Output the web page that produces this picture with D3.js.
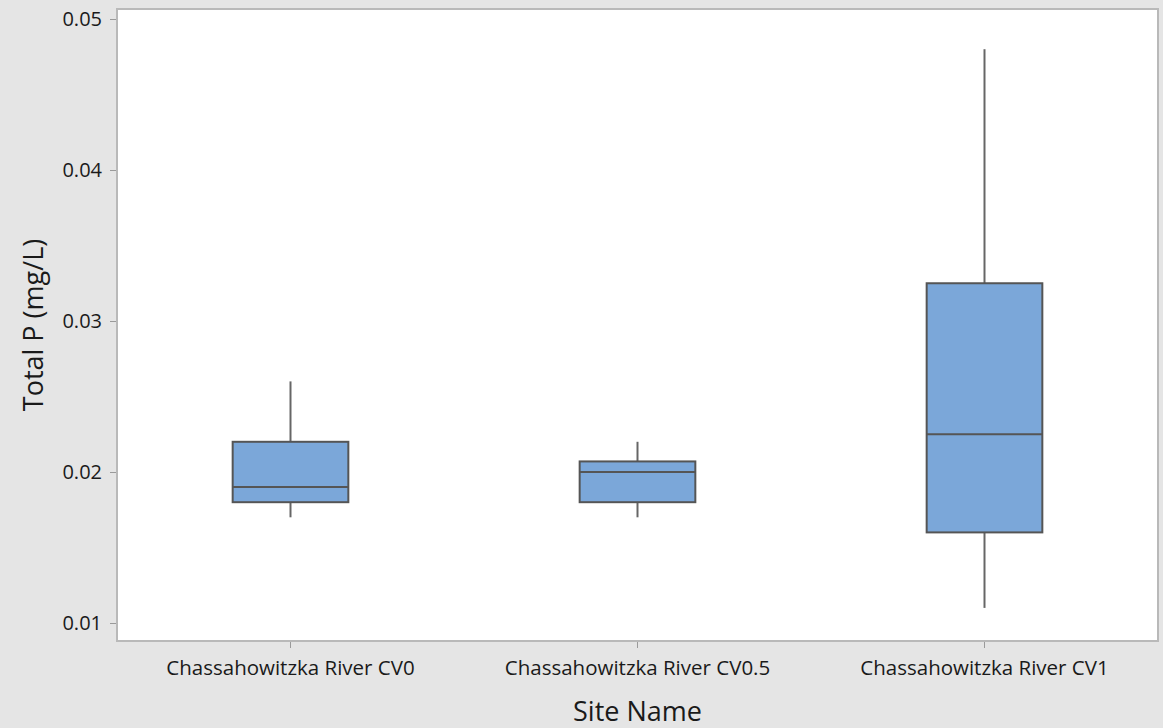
<!DOCTYPE html>
<html>
<head>
<meta charset="utf-8">
<script src="https://cdn.jsdelivr.net/npm/d3@7"></script>
<style>
  html, body { margin: 0; padding: 0; background: #e5e5e5; }
  svg { display: block; }
  text { font-family: "Open Sans", "Noto Sans", sans-serif; fill: #1a1a1a; }
</style>
</head>
<body>
<svg id="chart" width="1163" height="728"></svg>
<script>
// Total phosphorus summary per sampling site
const sites = ["Chassahowitzka River CV0", "Chassahowitzka River CV0.5", "Chassahowitzka River CV1"];
const whiskerLow  = [0.017, 0.017, 0.011];
const q1          = [0.018, 0.018, 0.016];
const median      = [0.019, 0.020, 0.0225];
const q3          = [0.022, 0.0207, 0.0325];
const whiskerHigh = [0.026, 0.022, 0.048];
const yTicks = [0.01, 0.02, 0.03, 0.04, 0.05];

const boxes = sites.map((s, i) => ({
  site: s, lo: whiskerLow[i], q1: q1[i], med: median[i], q3: q3[i], hi: whiskerHigh[i]
}));

const svg = d3.select("#chart");
const plot = { left: 117, top: 9, right: 1158, bottom: 641 };

const x = d3.scaleBand().domain(sites).range([plot.left, plot.right]).paddingInner(0).paddingOuter(0);
// 0.05 sits at y=19, 0.01 at y=623
const y = d3.scaleLinear().domain([0.01, 0.05]).range([623, 19]);

// plot background and frame
svg.append("rect")
  .attr("x", plot.left).attr("y", plot.top)
  .attr("width", plot.right - plot.left).attr("height", plot.bottom - plot.top)
  .attr("fill", "#ffffff").attr("stroke", "#b9b9b9").attr("stroke-width", 2);

// y axis
const yAxis = svg.append("g")
  .attr("transform", `translate(${plot.left - 1},0)`)
  .call(d3.axisLeft(y).tickValues(yTicks).tickFormat(d3.format(".2f")).tickSize(6).tickPadding(8));
yAxis.select(".domain").remove();
yAxis.selectAll(".tick line").attr("stroke", "#9a9a9a");
yAxis.selectAll(".tick text").style("font-size", "20px").attr("fill", "#1a1a1a");

// x axis
const xAxis = svg.append("g")
  .attr("transform", `translate(0,${plot.bottom + 1})`)
  .call(d3.axisBottom(x).tickSize(6).tickPadding(12));
xAxis.select(".domain").remove();
xAxis.selectAll(".tick line").attr("stroke", "#9a9a9a");
xAxis.selectAll(".tick text").style("font-size", "20.5px").attr("fill", "#1a1a1a");

// axis titles
svg.append("text")
  .attr("x", (plot.left + plot.right) / 2).attr("y", 721)
  .attr("text-anchor", "middle").style("font-size", "27px")
  .text("Site Name");
svg.append("text")
  .attr("transform", `translate(43,${(plot.top + plot.bottom) / 2}) rotate(-90)`)
  .attr("text-anchor", "middle").style("font-size", "27px")
  .text("Total P (mg/L)");

// box plots
const boxW = x.bandwidth() / 3;
const g = svg.append("g").selectAll("g").data(boxes).join("g")
  .attr("transform", d => `translate(${x(d.site) + x.bandwidth() / 2},0)`);

g.append("line")
  .attr("x1", 0).attr("x2", 0)
  .attr("y1", d => y(d.hi)).attr("y2", d => y(d.q3))
  .attr("stroke", "#666").attr("stroke-width", 2);
g.append("line")
  .attr("x1", 0).attr("x2", 0)
  .attr("y1", d => y(d.q1)).attr("y2", d => y(d.lo))
  .attr("stroke", "#666").attr("stroke-width", 2);
g.append("rect")
  .attr("x", -boxW / 2).attr("width", boxW)
  .attr("y", d => y(d.q3)).attr("height", d => y(d.q1) - y(d.q3))
  .attr("fill", "#7ba7d9").attr("stroke", "#555").attr("stroke-width", 2);
g.append("line")
  .attr("x1", -boxW / 2).attr("x2", boxW / 2)
  .attr("y1", d => y(d.med)).attr("y2", d => y(d.med))
  .attr("stroke", "#555").attr("stroke-width", 2);
</script>
</body>
</html>
